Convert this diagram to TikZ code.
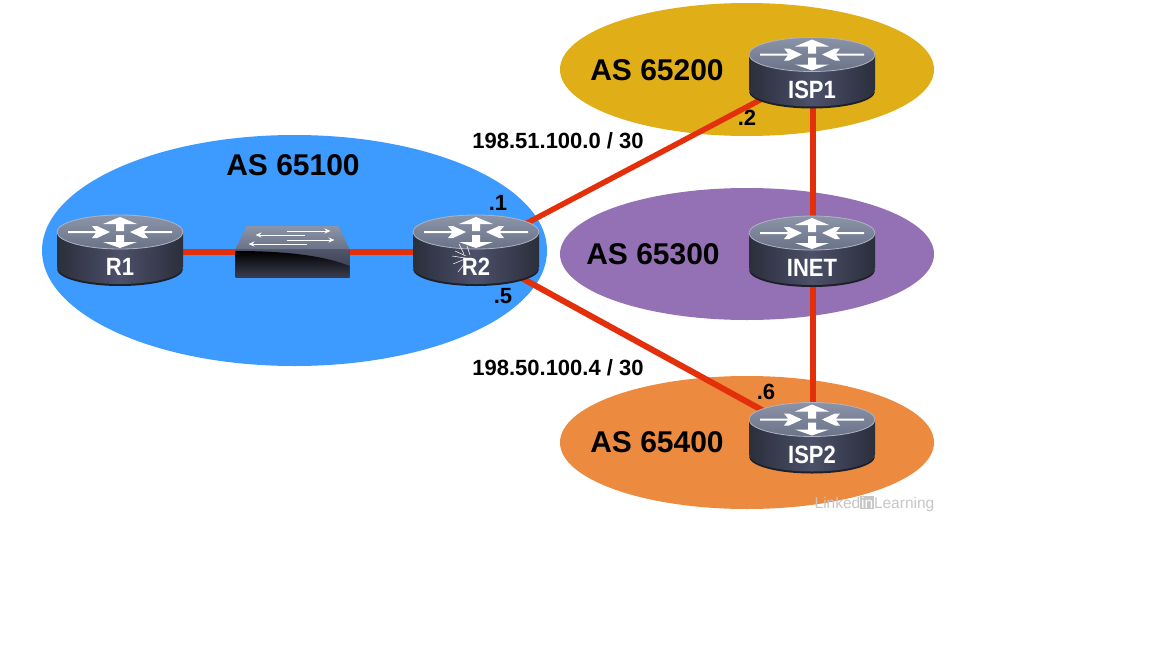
\documentclass[tikz,border=0pt]{standalone}
\usepackage{fontspec}
\setmainfont{Liberation Sans}
\usetikzlibrary{calc,arrows.meta,shapes.geometric}
\definecolor{asblue}{HTML}{3D9BFF}
\definecolor{asgold}{HTML}{E0AE16}
\definecolor{aspurple}{HTML}{9470B4}
\definecolor{asorange}{HTML}{EC8B40}
\definecolor{linkred}{HTML}{E3300A}
\definecolor{bodydark}{HTML}{2B2E3B}
\definecolor{bodymid}{HTML}{4C5069}
\definecolor{topa}{HTML}{8C94A8}
\definecolor{topb}{HTML}{6A7288}
\definecolor{wmgray}{HTML}{C6C6C6}
\definecolor{fronta}{HTML}{50556B}
\definecolor{frontb}{HTML}{353848}
\definecolor{frontc}{HTML}{3A3D50}
\pgfdeclarelayer{bg}
\pgfdeclarelayer{links}
\pgfsetlayers{bg,links,main}
\tikzset{
  asarea/.style={ellipse,draw=none,inner sep=0pt,outer sep=0pt},
  aslabel/.style={font=\fontsize{30}{30}\selectfont\bfseries,text=black,inner sep=0pt},
  addr/.style={font=\fontsize{22}{22}\selectfont\bfseries,text=black,inner sep=0pt},
  hostlabel/.style={font=\fontsize{25}{25}\selectfont\bfseries,text=white,inner sep=0pt,xscale=0.88,transform shape},
  link/.style={draw=linkred,line width=5.5pt},
  marklogo/.style={font=\fontsize{15.5}{16}\selectfont,text=wmgray,inner sep=0pt},
  router/.pic={
    \fill[bodydark!70!black] (-63,19) .. controls (-63,28.4) and (-35,36) .. (0,36) .. controls (35,36) and (63,28.4) .. (63,19) -- cycle;
    \shade[left color=bodydark,right color=bodydark,middle color=bodymid]
      (-63,-18) -- (-63,17) .. controls (-63,26.4) and (-35,34) .. (0,34) .. controls (35,34) and (63,26.4) .. (63,17) -- (63,-18) -- cycle;
    \shade[top color=topa,bottom color=topb,draw=topa!70!white,line width=0.8pt] (0,-18) ellipse [x radius=63pt,y radius=17pt];
    \fill[white] (-52,-19) -- (-24,-19) -- (-28,-24) -- (-23,-24) -- (-10,-18) -- (-23,-12) -- (-28,-12) -- (-24,-17) -- (-52,-17) -- cycle;
    \fill[white] (52,-19) -- (24,-19) -- (28,-24) -- (23,-24) -- (10,-18) -- (23,-12) -- (28,-12) -- (24,-17) -- (52,-17) -- cycle;
    \fill[white] (0,-33) -- (17,-26) -- (4,-26) -- (4,-19) -- (-4,-19) -- (-4,-26) -- (-17,-26) -- cycle;
    \fill[white] (0,-2) -- (17,-8) -- (4,-8) -- (4,-15) -- (-4,-15) -- (-4,-8) -- (-17,-8) -- cycle;
  },
  ethswitch/.pic={
    \shade[top color=fronta,bottom color=frontb] (-57,-3) rectangle (57,25);
    \shade[top color=black,bottom color=frontc] (-57,-1) .. controls (-10,-1) and (30,3) .. (57,14) -- (57,25) -- (-57,25) -- cycle;
    \shade[top color=topa,bottom color=topb] (-46,-26) -- (46,-26) -- (57,-3) -- (-57,-3) -- cycle;
    \draw[white,line width=1pt,-{Stealth[length=6pt,width=5pt]}] (-6,-21) -- (38,-21);
    \draw[white,line width=1pt,-{Stealth[length=6pt,width=5pt]}] (12,-17) -- (-37,-17);
    \draw[white,line width=1pt,-{Stealth[length=6pt,width=5pt]}] (-6,-12) -- (42,-12);
    \draw[white,line width=1pt,-{Stealth[length=6pt,width=5pt]}] (14,-8) -- (-44,-8);
  }
}
\newcommand{\placerouter}[4]{%
  \coordinate (#1) at (#2,#3);
  \pic at (#1) {router};
  \node[hostlabel] (#1-label) at ([yshift=-17pt]#1) {#4};
}
\begin{document}
\begin{tikzpicture}[x=1pt,y=-1pt]
\useasboundingbox (0,0) rectangle (1152,648);
\begin{pgfonlayer}{bg}
  \fill[white] (0,0) rectangle (1152,648);
  \node[asarea,fill=asblue,minimum width=505pt,minimum height=231pt] (as100) at (294.5,250.5) {};
  \node[asarea,fill=asgold,minimum width=374pt,minimum height=133pt] (as200) at (747,69.5) {};
  \node[asarea,fill=aspurple,minimum width=374pt,minimum height=132pt] (as300) at (747,254) {};
  \node[asarea,fill=asorange,minimum width=374pt,minimum height=133pt] (as400) at (747,442.5) {};
\end{pgfonlayer}
\placerouter{r1}{120}{250}{R1}
\placerouter{r2}{476}{250}{R2}
\placerouter{isp1}{812}{72.5}{ISP1}
\placerouter{inet}{812}{251}{INET}
\placerouter{isp2}{812}{437.5}{ISP2}
\coordinate (sw) at (292.5,252);
\pic at (sw) {ethswitch};
\begin{pgfonlayer}{links}
  \draw[link] ([yshift=-2pt]r1.center) -- (sw) -- ([yshift=-2pt]r2.center);
  \draw[link] (r2) -- (isp1);
  \draw[link,line width=6pt] ([yshift=-3pt]r2.center) -- (isp2);
  \draw[link] ([xshift=1pt]isp1.center) -- ([xshift=1pt]inet.center);
  \draw[link] ([xshift=1pt]inet.center) -- ([xshift=1pt]isp2.center);
\end{pgfonlayer}
% spark on R2
\draw[white,line width=0.5pt] (465,258) -- (452,256) (465,259) -- (453,264) (466,256) -- (455,251) (466,262) -- (458,272) (470,255) -- (467,246) (464,254) -- (459,244);
\node[aslabel] (lab100) at (293,165) {AS 65100};
\node[aslabel] (lab200) at (657,70) {AS 65200};
\node[aslabel] (lab300) at (653,254) {AS 65300};
\node[aslabel] (lab400) at (657,442) {AS 65400};
\node[addr] (net1) at (558,141) {198.51.100.0 / 30};
\node[addr] (net2) at (558,368) {198.50.100.4 / 30};
\node[addr] (ip1) at (498,203) {.1};
\node[addr] (ip2) at (747,118) {.2};
\node[addr] (ip5) at (503,296) {.5};
\node[addr] (ip6) at (766,392) {.6};
\node[marklogo] (brand) at (874.5,504) {Linked{\fboxsep=0.8pt\colorbox{wmgray}{\textcolor{white}{in}}}Learning};
\end{tikzpicture}
\end{document}
